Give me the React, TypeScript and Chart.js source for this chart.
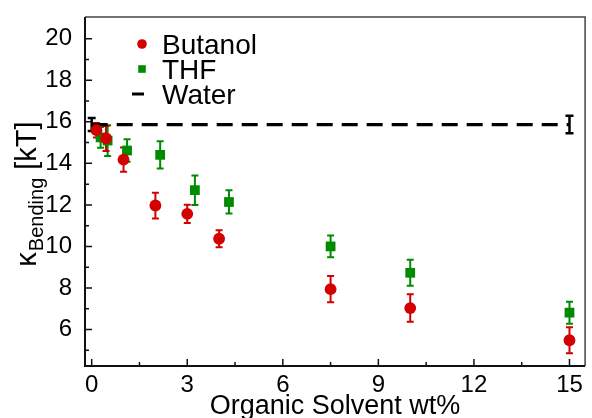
import React, { useEffect, useRef } from "react";
import { Chart, registerables } from "chart.js";

Chart.register(...registerables);

// ---- data ----
const butanolX = [0.15, 0.45, 1, 2, 3, 4, 7.5, 10, 15];
const butanolY = [15.6, 15.2, 14.18, 11.97, 11.57, 10.37, 7.94, 7.03, 5.48];
const butanolErr = [0.35, 0.6, 0.58, 0.62, 0.44, 0.41, 0.63, 0.66, 0.63];

const thfX = [0.28, 0.5, 1.11, 2.15, 3.24, 4.31, 7.5, 10, 15];
const thfY = [15.25, 15.1, 14.62, 14.41, 12.71, 12.14, 10.0, 8.73, 6.81];
const thfErr = [0.5, 0.74, 0.54, 0.66, 0.71, 0.56, 0.52, 0.63, 0.53];

const waterX = [0, 15];
const waterY = [15.87, 15.87];
const waterErr = [0.31, 0.42];

const xMajorTicks = [0, 3, 6, 9, 12, 15];
const xMinorTicks = [1.5, 4.5, 7.5, 10.5, 13.5];
const yMajorTicks = [6, 8, 10, 12, 14, 16, 18, 20];
const yMinorTicks = [5, 7, 9, 11, 13, 15, 17, 19];

const legendLabels = ["Butanol", "THF", "Water"];
const xTitle = "Organic Solvent wt%";
const yTitleMain = "\u03BA";
const yTitleSub = "Bending";
const yTitleUnit = " [kT]";

const RED = "#d20000";
const GREEN = "#008c00";
const FONT = "'Liberation Sans', Arial, Helvetica, sans-serif";

const toPts = (xs: number[], ys: number[]) => xs.map((x, i) => ({ x, y: ys[i] }));

const overlayPlugin = {
  id: "overlay",
  beforeDatasetsDraw(chart: any) {
    const ctx = chart.ctx;
    const ys = chart.scales.y;
    const sets: [number, number[], string, number, number][] = [
      [2, waterErr, "#000", 2.5, 4],
      [1, thfErr, GREEN, 2, 3.5],
      [0, butanolErr, RED, 2, 3.5],
    ];
    ctx.save();
    sets.forEach(([idx, errs, color, lw, cap]) => {
      const meta = chart.getDatasetMeta(idx);
      const data = chart.data.datasets[idx].data;
      meta.data.forEach((el: any, i: number) => {
        const v = data[i].y;
        const e = errs[i];
        const x = el.x;
        const y1 = ys.getPixelForValue(v + e);
        const y2 = ys.getPixelForValue(v - e);
        ctx.strokeStyle = color;
        ctx.lineWidth = lw;
        ctx.beginPath();
        ctx.moveTo(x, y1);
        ctx.lineTo(x, y2);
        ctx.moveTo(x - cap, y1);
        ctx.lineTo(x + cap, y1);
        ctx.moveTo(x - cap, y2);
        ctx.lineTo(x + cap, y2);
        ctx.stroke();
      });
    });
    ctx.restore();
  },
  afterDraw(chart: any) {
    const ctx = chart.ctx;
    const { left, right, top, bottom } = chart.chartArea;
    const xs = chart.scales.x;
    const ys = chart.scales.y;
    ctx.save();
    // frame
    ctx.lineCap = "butt";
    ctx.strokeStyle = "#444";
    ctx.lineWidth = 1.5;
    ctx.beginPath();
    ctx.moveTo(left, top);
    ctx.lineTo(right, top);
    ctx.lineTo(right, bottom);
    ctx.stroke();
    ctx.strokeStyle = "#111";
    ctx.lineWidth = 2;
    ctx.beginPath();
    ctx.moveTo(left, top);
    ctx.lineTo(left, bottom);
    ctx.lineTo(right, bottom);
    ctx.stroke();
    // inward ticks
    ctx.lineWidth = 1.5;
    ctx.beginPath();
    xMajorTicks.forEach((v) => {
      const p = xs.getPixelForValue(v);
      ctx.moveTo(p, bottom);
      ctx.lineTo(p, bottom - 7);
    });
    xMinorTicks.forEach((v) => {
      const p = xs.getPixelForValue(v);
      ctx.moveTo(p, bottom);
      ctx.lineTo(p, bottom - 4);
    });
    yMajorTicks.forEach((v) => {
      const p = ys.getPixelForValue(v);
      ctx.moveTo(left, p);
      ctx.lineTo(left + 7, p);
    });
    yMinorTicks.forEach((v) => {
      const p = ys.getPixelForValue(v);
      ctx.moveTo(left, p);
      ctx.lineTo(left + 4, p);
    });
    ctx.stroke();

    // legend
    const lx = 142;
    const ly = [44, 69, 94];
    ctx.fillStyle = RED;
    ctx.beginPath();
    ctx.arc(lx, ly[0], 4.8, 0, Math.PI * 2);
    ctx.fill();
    ctx.fillStyle = GREEN;
    ctx.fillRect(lx - 3.8, ly[1] - 3.8, 7.6, 7.6);
    ctx.strokeStyle = "#000";
    ctx.lineWidth = 3;
    ctx.beginPath();
    ctx.moveTo(lx - 10, ly[2]);
    ctx.lineTo(lx + 2, ly[2]);
    ctx.stroke();
    ctx.fillStyle = "#000";
    ctx.font = `28px ${FONT}`;
    ctx.textAlign = "left";
    ctx.textBaseline = "alphabetic";
    legendLabels.forEach((t, i) => {
      ctx.fillText(t, 162, ly[i] + 10);
    });

    // y title with subscript, rotated
    const mainFont = `29px ${FONT}`;
    const subFont = `20px ${FONT}`;
    ctx.font = mainFont;
    const w1 = ctx.measureText(yTitleMain).width + 1;
    const w3 = ctx.measureText(yTitleUnit).width;
    ctx.font = subFont;
    const w2 = ctx.measureText(yTitleSub).width;
    const total = w1 + w2 + w3;
    ctx.translate(36, 194);
    ctx.rotate(-Math.PI / 2);
    let cx = -total / 2;
    ctx.font = mainFont;
    ctx.fillText(yTitleMain, cx, 0);
    cx += w1;
    ctx.font = subFont;
    ctx.fillText(yTitleSub, cx, 7);
    cx += w2;
    ctx.font = mainFont;
    ctx.fillText(yTitleUnit, cx, 0);
    ctx.restore();
  },
};

export default function App() {
  const ref = useRef<HTMLCanvasElement | null>(null);
  useEffect(() => {
    if (!ref.current) return;
    const chart = new Chart(ref.current, {
      type: "scatter",
      data: {
        datasets: [
          {
            label: legendLabels[0],
            data: toPts(butanolX, butanolY),
            pointStyle: "circle",
            pointRadius: 5.9,
            backgroundColor: RED,
            borderColor: RED,
            borderWidth: 0,
          },
          {
            label: legendLabels[1],
            data: toPts(thfX, thfY),
            pointStyle: "rect",
            pointRadius: 6.9,
            backgroundColor: GREEN,
            borderColor: GREEN,
            borderWidth: 0,
          },
          {
            label: legendLabels[2],
            data: toPts(waterX, waterY),
            showLine: true,
            pointRadius: 0,
            borderColor: "#000",
            borderWidth: 3.2,
            borderDash: [16, 9],
            backgroundColor: "#000",
          },
        ],
      },
      options: {
        responsive: false,
        animation: false,
        layout: { padding: { top: 13, right: 3, left: 0, bottom: 0 } },
        plugins: { legend: { display: false }, tooltip: { enabled: false } },
        scales: {
          x: {
            type: "linear",
            min: -0.21,
            max: 15.49,
            grid: { display: false },
            border: { display: false },
            afterBuildTicks: (s: any) => {
              s.ticks = xMajorTicks.map((v) => ({ value: v }));
            },
            afterFit: (s: any) => {
              s.height = 52;
            },
            ticks: {
              color: "#000",
              padding: -1,
              font: { family: FONT, size: 24, lineHeight: 1 },
              maxRotation: 0,
              callback: (v: any) => String(v),
            },
            title: {
              display: true,
              text: xTitle,
              color: "#000",
              font: { family: FONT, size: 27, lineHeight: 1 },
              padding: { top: 0, bottom: -2 },
            },
          },
          y: {
            type: "linear",
            min: 4.24,
            max: 21.05,
            grid: { display: false },
            border: { display: false },
            afterBuildTicks: (s: any) => {
              s.ticks = yMajorTicks.map((v) => ({ value: v }));
            },
            afterFit: (s: any) => {
              s.width = 85;
            },
            ticks: {
              color: "#000",
              padding: 5,
              font: { family: FONT, size: 24, lineHeight: 1 },
              callback: (v: any) => String(v),
            },
          },
        },
      },
      plugins: [overlayPlugin],
    });
    return () => chart.destroy();
  }, []);
  return (
    <div style={{ position: "fixed", left: 0, top: 0, width: 592, height: 418, background: "#fff" }}>
      <canvas ref={ref} width={592} height={418} style={{ display: "block" }} />
    </div>
  );
}
